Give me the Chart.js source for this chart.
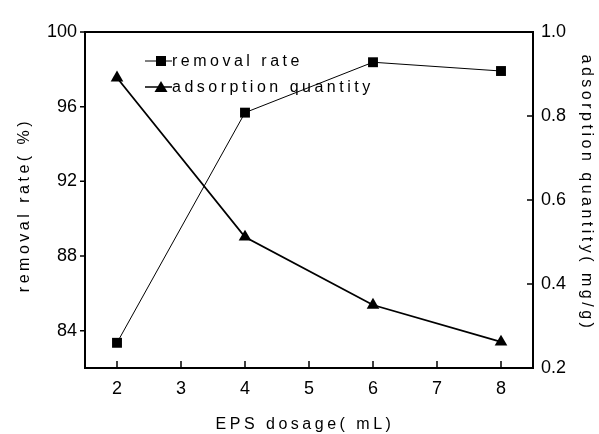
<!doctype html>
<html lang="en">
<head>
  <meta charset="UTF-8">
  <title>EPS dosage - removal rate / adsorption quantity</title>
  <script src="https://cdn.jsdelivr.net/npm/chart.js"></script>
  <style>
    html, body { margin: 0; padding: 0; background: #fff; }
  </style>
</head>
<body>
<canvas id="chart" width="599" height="434"></canvas>
<script>
  // data
  const dosage = [2, 4, 6, 8];
  const removalRate = [83.35, 95.68, 98.38, 97.91];
  const adsorptionQty = [0.891, 0.512, 0.350, 0.262];

  const xTicks = [2, 3, 4, 5, 6, 7, 8];
  const leftTicks = [84, 88, 92, 96, 100];
  const rightTicks = [0.2, 0.4, 0.6, 0.8, 1.0];

  const FONT = "'Liberation Sans', Arial, sans-serif";
  Chart.defaults.font.family = FONT;
  Chart.defaults.color = '#000';

  // inward/outward ticks, top frame line, spaced axis titles and the inner legend
  const decor = {
    id: 'decor',
    afterDraw(chart) {
      const { ctx, chartArea: a, scales } = chart;
      ctx.save();
      ctx.strokeStyle = '#000';
      ctx.fillStyle = '#000';

      ctx.lineWidth = 2;
      ctx.beginPath();
      ctx.moveTo(a.left - 1, a.top);
      ctx.lineTo(a.right + 1, a.top);
      ctx.stroke();

      ctx.lineWidth = 1.5;
      ctx.beginPath();
      xTicks.forEach(v => {
        const x = scales.x.getPixelForValue(v);
        ctx.moveTo(x, a.bottom);
        ctx.lineTo(x, a.bottom - 7);
      });
      leftTicks.forEach(v => {
        const y = scales.y.getPixelForValue(v);
        ctx.moveTo(a.left, y);
        ctx.lineTo(a.left - 5, y);
      });
      rightTicks.forEach(v => {
        const y = scales.y1.getPixelForValue(v);
        ctx.moveTo(a.right, y);
        ctx.lineTo(a.right - 6, y);
      });
      ctx.stroke();

      // axis titles
      ctx.font = '16px ' + FONT;
      ctx.letterSpacing = '3.5px';
      ctx.textAlign = 'center';
      ctx.textBaseline = 'middle';
      ctx.fillText('EPS dosage( mL)', 305, 425);

      ctx.save();
      ctx.translate(25, 205);
      ctx.rotate(-Math.PI / 2);
      ctx.fillText('removal rate( %)', 0, 0);
      ctx.restore();

      ctx.save();
      ctx.translate(586, 193);
      ctx.rotate(Math.PI / 2);
      ctx.fillText('adsorption quantity( mg/g)', 0, 0);
      ctx.restore();

      // legend
      const rows = [
        { text: 'removal rate', y: 61, shape: 'rect', lw: 1 },
        { text: 'adsorption quantity', y: 87, shape: 'triangle', lw: 1.5 }
      ];
      ctx.textAlign = 'left';
      rows.forEach(r => {
        ctx.lineWidth = r.lw;
        ctx.beginPath();
        ctx.moveTo(145, r.y);
        ctx.lineTo(172, r.y);
        ctx.stroke();
        const cx = 161;
        ctx.beginPath();
        if (r.shape === 'rect') {
          ctx.rect(cx - 5, r.y - 5, 10, 10);
        } else {
          ctx.moveTo(cx, r.y - 6);
          ctx.lineTo(cx + 6.5, r.y + 5);
          ctx.lineTo(cx - 6.5, r.y + 5);
          ctx.closePath();
        }
        ctx.fill();
        ctx.fillText(r.text, 172, r.y + 1);
      });

      ctx.restore();
    }
  };

  new Chart(document.getElementById('chart'), {
    type: 'line',
    data: {
      datasets: [{
        label: 'removal rate',
        data: dosage.map((x, i) => ({ x: x, y: removalRate[i] })),
        yAxisID: 'y',
        borderColor: '#000',
        backgroundColor: '#000',
        borderWidth: 1,
        pointStyle: 'rect',
        pointRadius: 7,
        pointBorderWidth: 0,
        tension: 0
      }, {
        label: 'adsorption quantity',
        data: dosage.map((x, i) => ({ x: x, y: adsorptionQty[i] })),
        yAxisID: 'y1',
        borderColor: '#000',
        backgroundColor: '#000',
        borderWidth: 1.8,
        pointStyle: 'triangle',
        pointRadius: 7.3,
        pointBorderWidth: 0,
        tension: 0
      }]
    },
    options: {
      responsive: false,
      animation: false,
      layout: { padding: { top: 32, left: 0, right: 0, bottom: 0 } },
      plugins: {
        legend: { display: false },
        tooltip: { enabled: false }
      },
      scales: {
        x: {
          type: 'linear',
          min: 1.5,
          max: 8.5,
          afterBuildTicks: s => { s.ticks = xTicks.map(v => ({ value: v })); },
          afterFit: s => { s.height = 66; },
          grid: { display: false, drawTicks: false },
          border: { display: true, color: '#000', width: 2 },
          ticks: { font: { size: 18 }, padding: 10, maxRotation: 0 }
        },
        y: {
          position: 'left',
          min: 82,
          max: 100,
          afterBuildTicks: s => { s.ticks = leftTicks.map(v => ({ value: v })); },
          afterFit: s => { s.width = 85; },
          grid: { display: false, drawTicks: false },
          border: { display: true, color: '#000', width: 2 },
          ticks: { font: { size: 18 }, padding: 8 }
        },
        y1: {
          position: 'right',
          min: 0.2,
          max: 1.0,
          afterBuildTicks: s => { s.ticks = rightTicks.map(v => ({ value: v })); },
          afterFit: s => { s.width = 66; },
          grid: { display: false, drawTicks: false },
          border: { display: true, color: '#000', width: 2 },
          ticks: { font: { size: 18 }, padding: 8, callback: v => v.toFixed(1) }
        }
      }
    },
    plugins: [decor]
  });
</script>
</body>
</html>
